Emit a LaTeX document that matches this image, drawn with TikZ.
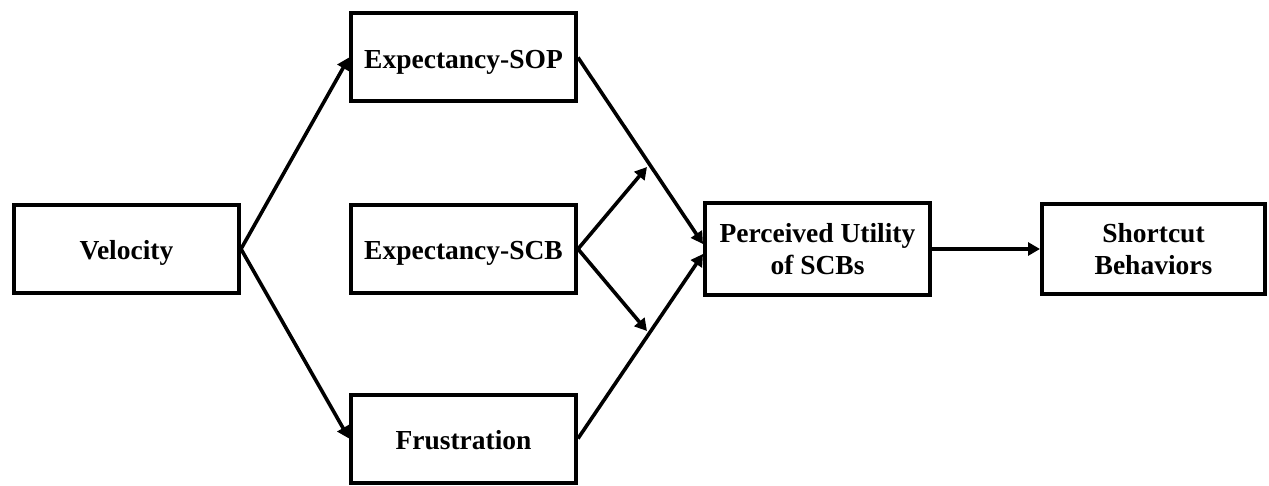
\documentclass[tikz,border=0pt]{standalone}
\usepackage{fontspec}
\setmainfont{Liberation Serif}
\usetikzlibrary{arrows.meta,calc}
\tikzset{
  box/.style={draw=black, line width=4pt, fill=white, minimum width=225pt, minimum height=88pt,
    inner sep=0pt, align=center, font=\fontsize{27.5}{32}\selectfont\bfseries},
  single/.style={text height=22pt, text depth=0pt},
  arr/.style={line width=3.6pt, -{Triangle[length=12pt,width=13pt]}}
}
\begin{document}
\begin{tikzpicture}[x=1pt,y=-1pt]
\useasboundingbox (0,0) rectangle (1269,486);
\node[box, single] (vel) at (126.5,249) {Velocity};
\node[box, single] (sop) at (463.5,57.5) {Expectancy-SOP};
\node[box, single] (scb) at (463.5,249) {Expectancy-SCB};
\node[box, single] (fru) at (463.5,438.5) {Frustration};
\node[box, minimum height=92pt] (pu) at (817.5,249) {Perceived Utility\\of SCBs};
\node[box, minimum width=223pt, minimum height=90pt] (sb) at (1153.5,249) {Shortcut\\Behaviors};
\coordinate (m1) at (647,167);
\coordinate (m2) at (647,331);
\draw[arr] (vel.east) -- (sop.west);
\draw[arr] (vel.east) -- (fru.west);
\draw[arr] (sop.east) -- ($(pu.west)+(0,-5)$);
\draw[arr] (fru.east) -- ($(pu.west)+(0,5)$);
\draw[arr] (scb.east) -- (m1);
\draw[arr] (scb.east) -- (m2);
\draw[arr] (pu.east) -- (sb.west);
\end{tikzpicture}
\end{document}
